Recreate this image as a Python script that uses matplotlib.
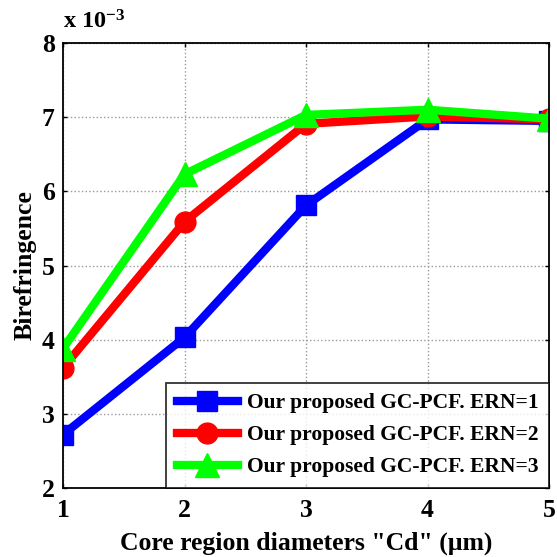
import matplotlib
matplotlib.use("Agg")
import matplotlib.pyplot as plt

plt.rcParams['font.family'] = ['Liberation Serif', 'DejaVu Serif']
plt.rcParams['font.weight'] = 'bold'
plt.rcParams['mathtext.fontset'] = 'custom'
plt.rcParams['mathtext.rm'] = 'Liberation Serif:bold'
plt.rcParams['mathtext.bf'] = 'Liberation Serif:bold'
plt.rcParams['mathtext.default'] = 'bf'

x = [1, 2, 3, 4, 5]
ern1 = [2.72, 4.03, 5.81, 6.97, 6.95]
ern2 = [3.62, 5.59, 6.91, 7.01, 6.97]
ern3 = [3.88, 6.23, 7.03, 7.10, 6.98]
labels = ["Our proposed GC-PCF. ERN=1", "Our proposed GC-PCF. ERN=2", "Our proposed GC-PCF. ERN=3"]
yticks = [2, 3, 4, 5, 6, 7, 8]
xticks = [1, 2, 3, 4, 5]

fig = plt.figure(figsize=(5.57, 5.57), dpi=100)
ax = fig.add_axes([63/557, 1-488/557, (549-63)/557, (488-43)/557])

ax.plot(x, ern1, color='#0000ff', lw=6, marker='s', ms=14, label=labels[0])
ax.plot(x, ern2, color='#ff0000', lw=6, marker='o', ms=15, label=labels[1])
ax.plot(x, ern3, color='#00ff00', lw=6, marker='^', ms=17, label=labels[2])

ax.set_xlim(1, 5)
ax.set_ylim(2, 8)
ax.set_xticks(xticks)
ax.set_yticks(yticks)
ax.tick_params(direction='in', length=3, width=1, labelsize=18.5, top=True, right=True)
ax.tick_params(axis='x', pad=8)
ax.tick_params(axis='y', pad=6)
for lab in ax.get_xticklabels() + ax.get_yticklabels():
    lab.set_fontweight('bold')
ax.grid(True, color='#999999', linestyle=':', linewidth=1.0)
for s in ax.spines.values():
    s.set_linewidth(1.3)

ax.set_xlabel('Core region diameters "Cd" (\u03bcm)', fontsize=18.5, fontweight='bold', labelpad=7)
ax.set_ylabel('Birefringence', fontsize=18.5, fontweight='bold', labelpad=4)
fig.text(63/557, 1-22/557, 'x 10$^{-3}$', fontsize=17.5, fontweight='bold', va='center', ha='left')

leg = ax.legend(loc='lower right', fontsize=15.5, frameon=True, fancybox=False, edgecolor='black',
                handlelength=2.85, borderaxespad=0.0, borderpad=0.5, labelspacing=0.55, handletextpad=0.4)
leg.get_frame().set_linewidth(1.3)
for t in leg.get_texts():
    t.set_fontweight('bold')

fig.savefig('out.png', dpi=100)
